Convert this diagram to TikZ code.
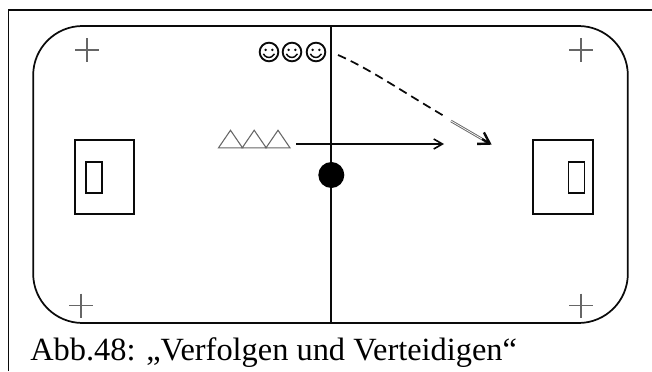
\documentclass[tikz,border=0pt]{standalone}
\usepackage{fontspec}
\setmainfont{Liberation Serif}
\usepackage{xcolor}
\usepackage{tikz}
\usetikzlibrary{shapes.geometric,arrows.meta,positioning}
\definecolor{cLine}{HTML}{0A0A0A}
\definecolor{cCross}{HTML}{666666}
\tikzset{
  feld/.style     = {rectangle, draw=cLine, line width=1.3pt, rounded corners=37pt,
                     minimum width=446pt, minimum height=222.75pt, inner sep=0pt},
  strafraum/.style = {rectangle, draw=cLine, line width=1.4pt, minimum width=44.5pt,
                     minimum height=56pt, inner sep=0pt},
  tor/.style      = {rectangle, draw=cLine, line width=1.4pt, minimum width=12pt,
                     minimum height=23.5pt, inner sep=0pt},
  kreuz/.style    = {inner sep=0pt, minimum size=18pt, path picture={
      \draw[cCross, line width=0.8pt] (path picture bounding box.north) -- (path picture bounding box.south);
      \draw[cCross, line width=0.8pt] (path picture bounding box.west) -- (path picture bounding box.east);}},
  smiley/.style   = {circle, draw=cLine, line width=1.4pt, minimum size=14pt, inner sep=0pt, path picture={
      \fill[cLine] (path picture bounding box.center) ++(-2.5pt,1.6pt) circle (1pt);
      \fill[cLine] (path picture bounding box.center) ++(2.5pt,1.6pt) circle (1pt);
      \draw[cLine, line width=1.1pt] (path picture bounding box.center) ++(-4.2pt,-1.4pt)
        arc[start angle=205, end angle=335, radius=4.6pt];}},
  dreieck/.style  = {isosceles triangle, isosceles triangle stretches, shape border rotate=90,
                     draw=cCross, line width=0.8pt, minimum width=18pt, minimum height=13.2pt,
                     inner sep=0pt},
  ball/.style     = {circle, fill=black, minimum size=19.5pt, inner sep=0pt},
  lauf/.style     = {-{Straight Barb[length=6.5pt,width=7.5pt]}, draw=cLine, line width=1.2pt},
  pass/.style     = {draw=cLine, line width=1.3pt, dash pattern=on 6.5pt off 4pt},
  doppel/.style   = {double=white, draw=cCross, line width=0.7pt, double distance=0.5pt},
  spitze/.style   = {-{Straight Barb[length=8pt,width=10pt]}, draw=cLine, line width=1.8pt},
  titel/.style    = {font=\fontsize{24.3pt}{26pt}\selectfont, inner sep=0pt, anchor=base west},
}
\begin{document}
\begin{tikzpicture}[x=0.75pt,y=-0.75pt]
  \useasboundingbox (0,0) rectangle (652,371);
  % Rahmen
  \coordinate (r1) at (8.5,371);
  \coordinate (r2) at (8.5,10);
  \coordinate (r3) at (652,10);
  \draw[cLine, line width=1.3pt] (r1) -- (r2) -- (r3);

  % Spielfeld
  \node[feld] (feld) at (330.5,174.5) {};
  \node[strafraum] (sl) at (104.5,177) {};
  \node[tor] (tl) at (94,177.7) {};
  \node[strafraum] (sr) at (563,177) {};
  \node[tor] (tr) at (576.5,177.7) {};
  \coordinate (mo) at (331.3,26);
  \coordinate (mu) at (331.3,323);
  \draw[cLine, line width=1.5pt] (mo) -- (mu);
  \node[ball] (ball) at (331.3,175) {};

  % Kreuze
  \node[kreuz] (k1) at (87,50) {};
  \node[kreuz] (k2) at (581,50) {};
  \node[kreuz] (k3) at (81,305.5) {};
  \node[kreuz] (k4) at (581,305.5) {};

  % Spieler
  \node[smiley] (s1) at (269,52) {};
  \node[smiley] (s2) at (292,52) {};
  \node[smiley] (s3) at (316,52) {};
  \node[dreieck] (d1) at (230.5,141.5) {};
  \node[dreieck] (d2) at (254.2,141.5) {};
  \node[dreieck] (d3) at (278,141.5) {};

  % Wege
  \coordinate (a1) at (296,144);
  \coordinate (a2) at (444,144);
  \draw[lauf] (a1) -- (a2);
  \coordinate (b1) at (338,55);
  \coordinate (b2) at (444,116);
  \draw[pass] (b1) .. controls (368,68) and (400,90) .. (b2);
  \coordinate (c1) at (451,121);
  \coordinate (c2) at (482,139);
  \coordinate (c3) at (491.7,144.7);
  \draw[doppel] (c1) -- (c2);
  \draw[spitze] (c2) -- (c3);

  \node[titel] (cap) at (30,360) {Abb.48: „Verfolgen und Verteidigen“};
\end{tikzpicture}
\end{document}
